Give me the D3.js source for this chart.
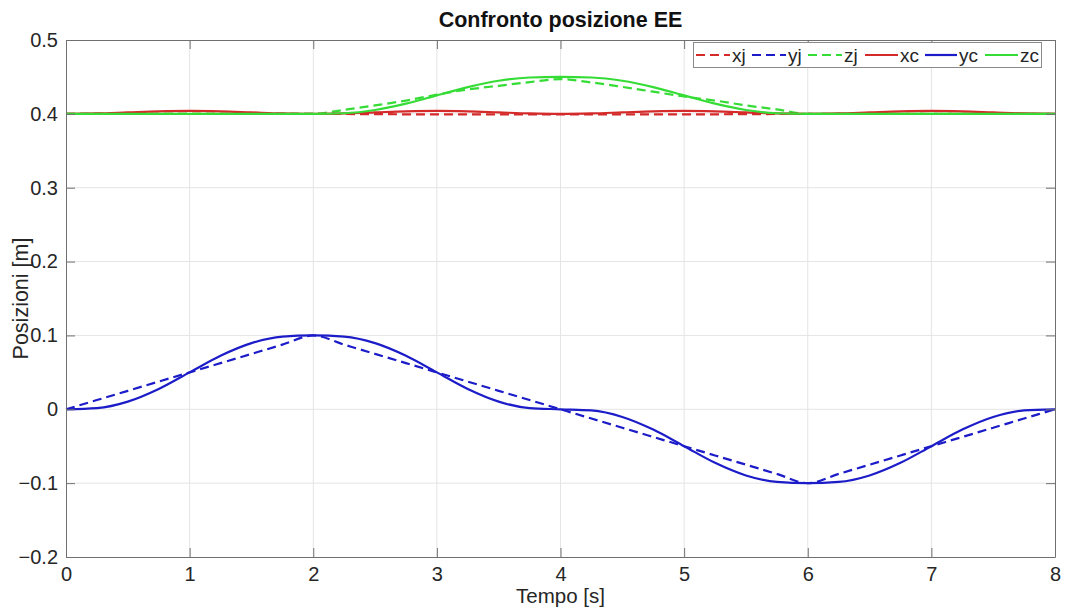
<!DOCTYPE html>
<html>
<head>
<meta charset="utf-8">
<script src="https://cdn.jsdelivr.net/npm/d3@7"></script>
<style>
  html, body { margin: 0; padding: 0; background: #fff; }
  svg { display: block; font-family: "Liberation Sans", Arial, Helvetica, sans-serif; }
</style>
</head>
<body>
<svg id="chart" width="1065" height="608"></svg>
<script>
// Sample times [s]
const timeS = [0,0.25,0.5,0.75,1,1.25,1.5,1.75,2,2.25,2.5,2.75,3,3.25,3.5,3.75,4,
               4.25,4.5,4.75,5,5.25,5.5,5.75,6,6.25,6.5,6.75,7,7.25,7.5,7.75,8];

// Joint-space trajectory (dashed)
const xj = [0.4,0.4,0.4,0.4,0.4,0.4,0.4,0.4,0.4,
            0.3998,0.3996,0.3994,0.3993,0.3993,0.3993,0.3993,0.3993,
            0.3993,0.3993,0.3993,0.3993,0.3994,0.3996,0.3998,0.4,
            0.4,0.4,0.4,0.4,0.4,0.4,0.4,0.4];
const yj = [0,0.0125,0.025,0.0375,0.05,0.0625,0.075,0.0875,0.1,
            0.0875,0.075,0.0625,0.05,0.0375,0.025,0.0125,0,
            -0.0125,-0.025,-0.0375,-0.05,-0.0625,-0.075,-0.0875,-0.1,
            -0.0875,-0.075,-0.0625,-0.05,-0.0375,-0.025,-0.0125,0];
const zj = [0.4,0.4,0.4,0.4,0.4,0.4,0.4,0.4,0.4,
            0.4055,0.4115,0.418,0.426,0.433,0.438,0.443,0.447,
            0.4425,0.4365,0.430,0.4235,0.418,0.4115,0.406,0.4,
            0.4,0.4,0.4,0.4,0.4,0.4,0.4,0.4];

// Cartesian trajectory (solid)
const xc = [0.4,0.4006,0.402,0.4034,0.404,0.4034,0.402,0.4006,0.4,
            0.4006,0.402,0.4034,0.404,0.4034,0.402,0.4006,0.4,
            0.4006,0.402,0.4034,0.404,0.4034,0.402,0.4006,0.4,
            0.4006,0.402,0.4034,0.404,0.4034,0.402,0.4006,0.4];
const yc = [0,0.0016,0.0104,0.0275,0.05,0.0725,0.0896,0.0984,0.1,
            0.0984,0.0896,0.0725,0.05,0.0275,0.0104,0.0016,0,
            -0.0016,-0.0104,-0.0275,-0.05,-0.0725,-0.0896,-0.0984,-0.1,
            -0.0984,-0.0896,-0.0725,-0.05,-0.0275,-0.0104,-0.0016,0];
const zc = [0.4,0.4,0.4,0.4,0.4,0.4,0.4,0.4,0.4,
            0.4008,0.4052,0.4138,0.425,0.4362,0.4448,0.4492,0.45,
            0.4492,0.4448,0.4362,0.425,0.4138,0.4052,0.4008,0.4,
            0.4,0.4,0.4,0.4,0.4,0.4,0.4,0.4];

const xTicks = [0,1,2,3,4,5,6,7,8];
const yTicks = [-0.2,-0.1,0,0.1,0.2,0.3,0.4,0.5];

const seriesNames = ["xj","yj","zj","xc","yc","zc"];
const seriesData  = [xj, yj, zj, xc, yc, zc];

const RED = "#d42a2a", BLUE = "#1c1cc8", GREEN = "#36dc36";
const seriesColor = [RED, BLUE, GREEN, RED, BLUE, GREEN];
const seriesDash  = ["9,5","9,5","9,5",null,null,null];

const svg = d3.select("#chart");
const plot = { left: 66, right: 1055, top: 40, bottom: 557 };

const x = d3.scaleLinear().domain([0, 8]).range([plot.left, plot.right]);
const y = d3.scaleLinear().domain([-0.2, 0.5]).range([plot.bottom, plot.top]);

const AX = "#707070", TXT = "#262626";

// grid
const grid = svg.append("g");
grid.selectAll("line.gx").data(xTicks.slice(1, -1)).join("line")
  .attr("x1", d => x(d)).attr("x2", d => x(d))
  .attr("y1", plot.top).attr("y2", plot.bottom)
  .attr("stroke", "#e4e4e4").attr("stroke-width", 1);
grid.selectAll("line.gy").data(yTicks.slice(1, -1)).join("line")
  .attr("x1", plot.left).attr("x2", plot.right)
  .attr("y1", d => y(d)).attr("y2", d => y(d))
  .attr("stroke", "#e4e4e4").attr("stroke-width", 1);

// series
const line = d3.line()
  .x((d, i) => x(timeS[i]))
  .y(d => y(d))
  .curve(d3.curveMonotoneX);

const series = svg.append("g");
seriesData.forEach((vals, k) => {
  series.append("path")
    .datum(vals)
    .attr("d", line)
    .attr("fill", "none")
    .attr("stroke", seriesColor[k])
    .attr("stroke-width", 2.2)
    .attr("stroke-dasharray", seriesDash[k])
    .attr("stroke-linejoin", "round");
});

// axes: box with inward ticks on all four sides
const tickLen = 9;
const axBottom = d3.axisBottom(x).tickValues(xTicks).tickSizeInner(-tickLen).tickSizeOuter(0)
  .tickFormat(d3.format("d")).tickPadding(10);
const axLeft = d3.axisLeft(y).tickValues(yTicks).tickSizeInner(-tickLen).tickSizeOuter(0)
  .tickFormat(d => d === 0 ? "0" : d3.format(".1f")(d)).tickPadding(8);
const axTop = d3.axisTop(x).tickValues(xTicks).tickSizeInner(-tickLen).tickSizeOuter(0).tickFormat("");
const axRight = d3.axisRight(y).tickValues(yTicks).tickSizeInner(-tickLen).tickSizeOuter(0).tickFormat("");

function styleAxis(g) {
  g.select(".domain").attr("stroke", AX).attr("stroke-width", 1);
  g.selectAll(".tick line").attr("stroke", AX).attr("stroke-width", 1);
  g.selectAll(".tick text").attr("fill", TXT)
    .style("font-family", '"Liberation Sans", Arial, sans-serif').style("font-size", "20px");
}

svg.append("g").attr("transform", `translate(0,${plot.bottom})`).call(axBottom).call(styleAxis);
svg.append("g").attr("transform", `translate(${plot.left},0)`).call(axLeft).call(styleAxis);
svg.append("g").attr("transform", `translate(0,${plot.top})`).call(axTop).call(styleAxis);
svg.append("g").attr("transform", `translate(${plot.right},0)`).call(axRight).call(styleAxis);

// title and axis labels
svg.append("text")
  .attr("x", (plot.left + plot.right) / 2).attr("y", 27)
  .attr("text-anchor", "middle").attr("fill", "#111")
  .style("font-size", "21.5px").style("font-weight", "bold")
  .text("Confronto posizione EE");

svg.append("text")
  .attr("x", (plot.left + plot.right) / 2).attr("y", 603)
  .attr("text-anchor", "middle").attr("fill", TXT)
  .style("font-size", "20.5px")
  .text("Tempo [s]");

svg.append("text")
  .attr("transform", `translate(28,${(plot.top + plot.bottom) / 2}) rotate(-90)`)
  .attr("text-anchor", "middle").attr("fill", TXT)
  .style("font-size", "21.5px")
  .text("Posizioni [m]");

// legend
const legend = svg.append("g");
legend.append("rect")
  .attr("x", 693.5).attr("y", 42.5).attr("width", 348).attr("height", 25)
  .attr("fill", "#fff").attr("stroke", "#8a8a8a").attr("stroke-width", 1);

const legendX = [696, 752, 808, 865, 925, 985];
const sampleLen = [34, 34, 34, 33, 32, 33];
seriesNames.forEach((name, k) => {
  legend.append("line")
    .attr("x1", legendX[k]).attr("x2", legendX[k] + sampleLen[k])
    .attr("y1", 55).attr("y2", 55)
    .attr("stroke", seriesColor[k]).attr("stroke-width", 2.2)
    .attr("stroke-dasharray", seriesDash[k]);
  legend.append("text")
    .attr("x", legendX[k] + sampleLen[k] + 2).attr("y", 62)
    .attr("fill", TXT).style("font-size", "19px")
    .text(name);
});
</script>
</body>
</html>
